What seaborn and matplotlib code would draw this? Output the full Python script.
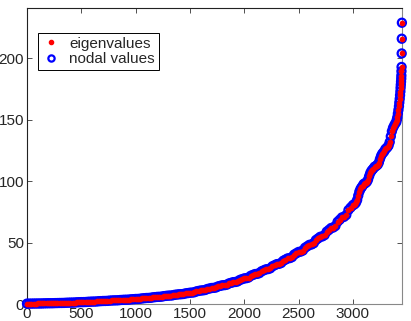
import matplotlib
matplotlib.use('Agg')
import matplotlib.pyplot as plt
import seaborn as sns
import pandas as pd

# Eigenvalue index positions
idx_low = list(range(0, 3000, 20))
idx_high = list(range(3000, 3400, 10))
idx_tail = [3400, 3405, 3410, 3415, 3420, 3425, 3428, 3432, 3435, 3438, 3440,
            3442, 3444, 3446, 3447, 3448, 3449, 3450, 3451, 3452]

# Values (staircase-like growth)
vals_low = [
    0.31, 0.32, 0.33, 0.37, 0.39, 0.42, 0.43, 0.46, 0.54, 0.58,
    0.62, 0.63, 0.66, 0.74, 0.78, 0.83, 0.85, 0.89, 1.01, 1.07,
    1.14, 1.16, 1.22, 1.38, 1.46, 1.54, 1.56, 1.62, 1.78, 1.86,
    1.95, 1.98, 2.05, 2.25, 2.35, 2.45, 2.48, 2.55, 2.75, 2.85,
    2.95, 2.98, 3.05, 3.25, 3.35, 3.46, 3.49, 3.58, 3.82, 3.94,
    4.08, 4.12, 4.24, 4.56, 4.72, 4.89, 4.94, 5.07, 5.43, 5.61,
    5.80, 5.85, 6.00, 6.40, 6.60, 6.81, 6.87, 7.03, 7.47, 7.69,
    7.92, 7.98, 8.16, 8.64, 8.88, 9.18, 9.27, 9.54, 10.26, 10.62,
    11.0, 11.1, 11.4, 12.2, 12.6, 13.02, 13.13, 13.46, 14.34, 14.78,
    15.25, 15.38, 15.75, 16.75, 17.25, 17.8, 17.95, 18.4, 19.6, 20.2,
    20.85, 21.03, 21.55, 22.95, 23.65, 24.38, 24.57, 25.14, 26.66, 27.42,
    28.22, 28.43, 29.06, 30.74, 31.58, 32.46, 32.69, 33.38, 35.22, 36.14,
    37.12, 37.38, 38.16, 40.24, 41.28, 42.37, 42.66, 43.51, 45.79, 46.93,
    48.15, 48.48, 49.45, 52.05, 53.35, 54.7, 55.05, 56.1, 58.9, 60.3,
    61.85, 62.28, 63.55, 66.95, 68.65, 70.5, 71.0, 72.5, 76.5, 78.5,
]
vals_high = [
    80.38, 80.9, 81.6, 82.65, 84.75, 88.25, 91.4, 93.5, 94.9, 96.13,
    97.7, 98.12, 98.68, 99.52, 101.2, 104.0, 106.52, 108.2, 109.32, 110.3,
    111.7, 112.12, 112.68, 113.52, 115.2, 118.0, 120.52, 122.2, 123.32, 124.3,
    126.15, 126.84, 127.76, 129.14, 131.9, 136.5, 140.64, 143.4, 145.24, 146.85,
]
vals_tail = [148, 150, 152, 155, 158, 161, 164, 167, 170, 173, 176,
             178.5, 181, 183.5, 186, 189.5, 193, 204, 216, 229]

df = pd.DataFrame({
    'index': idx_low + idx_high + idx_tail,
    'value': vals_low + vals_high + vals_tail,
})

sns.set_style('white')
plt.rcParams['font.family'] = ['Liberation Sans', 'DejaVu Sans']

fig = plt.figure(figsize=(4.11, 3.21), dpi=100)
ax = fig.add_axes([27 / 411, (321 - 304) / 321, 375 / 411, 296 / 321])

sns.scatterplot(data=df, x='index', y='value', ax=ax, marker='o', s=34,
                facecolors='none', edgecolor='blue', linewidth=1.6,
                clip_on=False, zorder=3)
sns.scatterplot(data=df, x='index', y='value', ax=ax, marker='o', s=17,
                color='red', linewidth=0, clip_on=False, zorder=4)

ax.set_xlim(0, 3453)
ax.set_ylim(0, 241)
ax.set_xticks([0, 500, 1000, 1500, 2000, 2500, 3000])
ax.set_yticks([0, 50, 100, 150, 200])
ax.set_xlabel('')
ax.set_ylabel('')
ax.tick_params(direction='in', length=3.5, width=0.6, labelsize=11,
               top=True, right=True, bottom=True, left=True, pad=2,
               color='#333333')
for side, sp in ax.spines.items():
    sp.set_visible(True)
    sp.set_linewidth(0.8)
    sp.set_color('#222222' if side in ('left', 'top') else '#888888')

h_red = plt.Line2D([], [], linestyle='none', marker='o', markersize=3,
                   markerfacecolor='red', markeredgecolor='red')
h_blue = plt.Line2D([], [], linestyle='none', marker='o', markersize=4.5,
                    markerfacecolor='none', markeredgecolor='blue',
                    markeredgewidth=1.6)
leg = ax.legend([h_red, h_blue], ['eigenvalues', 'nodal values'],
                loc='upper left', bbox_to_anchor=(0.029, 0.916),
                borderaxespad=0, fancybox=False, framealpha=1,
                edgecolor='black', fontsize=11, handlelength=1.2,
                handletextpad=0.6, borderpad=0.25, labelspacing=0.1)
leg.get_frame().set_linewidth(0.7)

fig.savefig('out.png', dpi=100)
